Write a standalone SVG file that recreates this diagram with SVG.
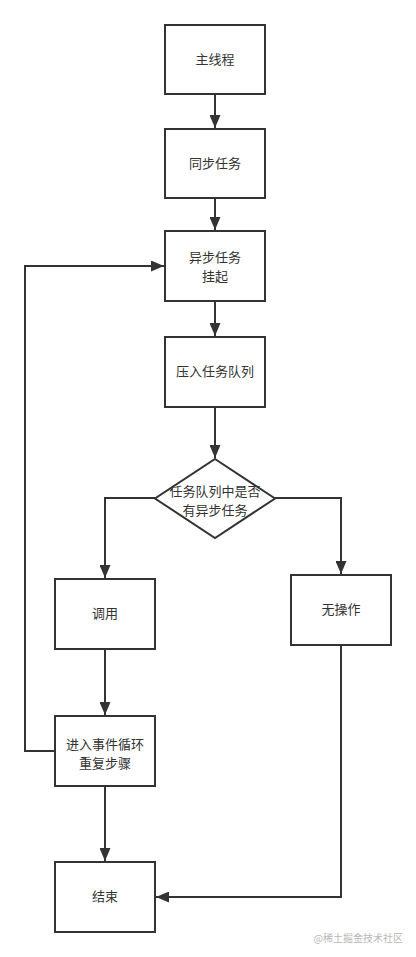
<svg xmlns="http://www.w3.org/2000/svg" width="416" height="957" viewBox="0 0 416 957">
<defs>
<style>
.box{fill:#fff;stroke:#333;stroke-width:2}
.lbl{font-family:"Noto Sans CJK SC","Noto Sans",sans-serif;font-size:13px;fill:#333;text-anchor:middle}
.edge{fill:none;stroke:#333;stroke-width:2}
.wm{font-family:"Noto Sans CJK SC","Noto Sans",sans-serif;font-size:10px;fill:#b8b8b8;text-anchor:end}
</style>
<marker id="arr" markerUnits="userSpaceOnUse" markerWidth="13" markerHeight="11" refX="13" refY="5.5" orient="auto">
<path d="M0,0 L13,5.5 L0,11 z" fill="#333"/>
</marker>
</defs>
<rect width="416" height="957" fill="#fff"/>
<g id="connectors">
<path class="edge" d="M215,94 V128" marker-end="url(#arr)"/>
<path class="edge" d="M215,198 V230" marker-end="url(#arr)"/>
<path class="edge" d="M215,301 V336" marker-end="url(#arr)"/>
<path class="edge" d="M215,407 V458" marker-end="url(#arr)"/>
<path class="edge" d="M155,498 H105 V578" marker-end="url(#arr)"/>
<path class="edge" d="M275,498 H341 V574" marker-end="url(#arr)"/>
<path class="edge" d="M105,649 V715" marker-end="url(#arr)"/>
<path class="edge" d="M105,786 V861" marker-end="url(#arr)"/>
<path class="edge" d="M55,751 H25 V266 H164" marker-end="url(#arr)"/>
<path class="edge" d="M341,645 V897 H156" marker-end="url(#arr)"/>
</g>
<g id="main">
<rect class="box" x="165" y="25" width="100" height="69"/>
<text class="lbl" x="215" y="64">主线程</text>
</g>
<g id="sync">
<rect class="box" x="165" y="129" width="100" height="69"/>
<text class="lbl" x="215" y="168">同步任务</text>
</g>
<g id="async">
<rect class="box" x="165" y="231" width="100" height="70"/>
<text class="lbl" x="215" y="262">异步任务</text>
<text class="lbl" x="215" y="281">挂起</text>
</g>
<g id="push">
<rect class="box" x="165" y="337" width="100" height="70"/>
<text class="lbl" x="215" y="376">压入任务队列</text>
</g>
<g id="decision">
<polygon class="box" points="215,459 275,498.5 215,538 155,498.5"/>
<text class="lbl" x="215" y="496">任务队列中是否</text>
<text class="lbl" x="215" y="515">有异步任务</text>
</g>
<g id="call">
<rect class="box" x="55" y="579" width="100" height="70"/>
<text class="lbl" x="105" y="618">调用</text>
</g>
<g id="noop">
<rect class="box" x="291" y="575" width="100" height="70"/>
<text class="lbl" x="341" y="614">无操作</text>
</g>
<g id="loop">
<rect class="box" x="55" y="716" width="100" height="70"/>
<text class="lbl" x="105" y="748.5">进入事件循环</text>
<text class="lbl" x="105" y="767.5">重复步骤</text>
</g>
<g id="end">
<rect class="box" x="55" y="862" width="100" height="70"/>
<text class="lbl" x="105" y="901">结束</text>
</g>
<text class="wm" x="403" y="942">@稀土掘金技术社区</text>
</svg>
